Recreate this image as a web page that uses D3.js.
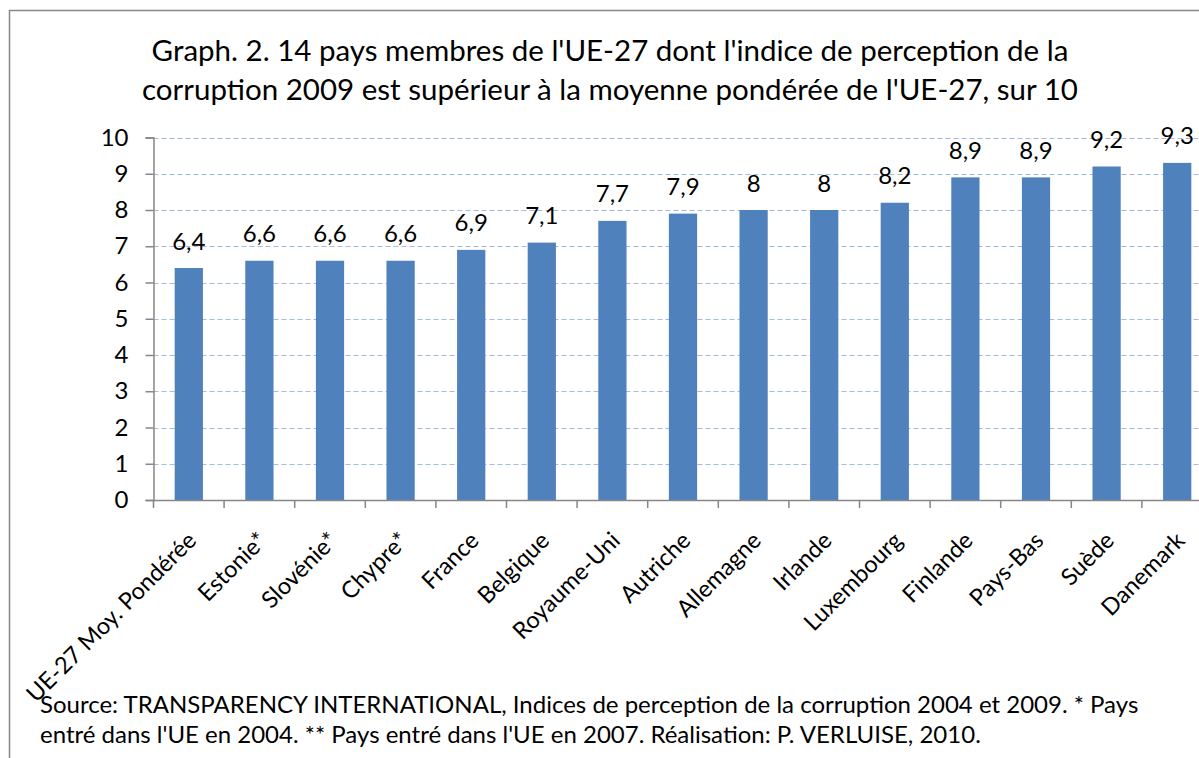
<!DOCTYPE html>
<html><head><meta charset="utf-8">
<script src="https://cdn.jsdelivr.net/npm/d3@7"></script>
<style>body{margin:0;background:#fff}svg{display:block}text{font-family:Lato,"Open Sans",sans-serif;fill:#000}</style>
</head><body><svg id="c" width="1199" height="758"></svg>
<script>
const categories = ["UE-27 Moy. Pondérée","Estonie*","Slovénie*","Chypre*","France","Belgique","Royaume-Uni","Autriche","Allemagne","Irlande","Luxembourg","Finlande","Pays-Bas","Suède","Danemark"];
const values = [6.4,6.6,6.6,6.6,6.9,7.1,7.7,7.9,8,8,8.2,8.9,8.9,9.2,9.3];
const yTicks = [0,1,2,3,4,5,6,7,8,9,10];
const titleLines = ["Graph. 2. 14 pays membres de l'UE-27 dont l'indice de perception de la","corruption 2009 est supérieur à la moyenne pondérée de l'UE-27, sur 10"];
const sourceLines = ["Source: TRANSPARENCY INTERNATIONAL, Indices de perception de la corruption 2004 et 2009. * Pays","entré dans l'UE en 2004. ** Pays entré dans l'UE en 2007. Réalisation: P. VERLUISE, 2010."];

const svg = d3.select("#c");
const fmt = v => String(v).replace(".", ",");

// frame
svg.append("path").attr("d","M9.5,758 V10.5 H1199").attr("fill","none").attr("stroke","#878787").attr("stroke-width",1.5);

const x0 = 153.5, x1 = 153.5 + 70.6*15, yb = 500, yt = 137.5;
const x = d3.scaleBand().domain(categories).range([x0, x1]).paddingInner(0.6).paddingOuter(0.3);
const xb = d3.scaleBand().domain(categories).range([x0, x1]);
const y = d3.scaleLinear().domain([0,10]).range([yb, yt]);

// gridlines
svg.append("g").selectAll("line").data(yTicks.filter(d=>d>0)).join("line")
  .attr("x1",x0).attr("x2",x1).attr("y1",d=>Math.round(y(d))+0.5).attr("y2",d=>Math.round(y(d))+0.5)
  .attr("stroke","#a3bbe3").attr("stroke-width",1).attr("stroke-dasharray","5,3");

// bars
svg.append("g").selectAll("rect").data(values).join("rect")
  .attr("x",(d,i)=>x(categories[i])).attr("width",x.bandwidth())
  .attr("y",d=>y(d)).attr("height",d=>yb-y(d)).attr("fill","#4f81bd");

// data labels
svg.append("g").selectAll("text").data(values).join("text")
  .attr("x",(d,i)=>x(categories[i])+x.bandwidth()/2).attr("y",d=>y(d)-18.5)
  .attr("text-anchor","middle").attr("font-size",24).text(fmt);

// y axis
const ya = svg.append("g").attr("transform",`translate(${x0},0)`)
  .call(d3.axisLeft(y).tickValues(yTicks).tickSize(8).tickPadding(17).tickFormat(d=>d));
ya.select(".domain").attr("stroke","#868686").attr("stroke-width",1.5);
ya.selectAll(".tick line").attr("stroke","#868686").attr("stroke-width",1.5);
ya.selectAll("text").attr("font-size",24).attr("font-family","Lato").attr("fill","#000");

// x axis
const xa = svg.append("g").attr("transform",`translate(0,${yb})`)
  .call(d3.axisBottom(xb).tickSize(0).tickFormat(""));
xa.select(".domain").attr("stroke","#868686").attr("stroke-width",1.5);
xa.selectAll(".tick").remove();
svg.append("g").selectAll("line").data(d3.range(categories.length+1)).join("line")
  .attr("x1",i=>x0+i*xb.step()).attr("x2",i=>x0+i*xb.step()).attr("y1",yb).attr("y2",yb+8)
  .attr("stroke","#868686").attr("stroke-width",1.5);

// category labels
svg.append("g").selectAll("text").data(categories).join("text")
  .attr("transform",d=>`translate(${xb(d)+xb.bandwidth()/2+9},${yb+42}) rotate(-45)`)
  .attr("text-anchor","end").attr("font-size",23.5).text(d=>d);

// title
svg.append("g").selectAll("text").data(titleLines).join("text")
  .attr("x",610).attr("y",(d,i)=>61+i*38.5).attr("text-anchor","middle").attr("font-size",29.5).text(d=>d);

// source
svg.append("g").selectAll("text").data(sourceLines).join("text")
  .attr("x",40).attr("y",(d,i)=>713+i*30).attr("font-size",24).text(d=>d);
</script></body></html>
